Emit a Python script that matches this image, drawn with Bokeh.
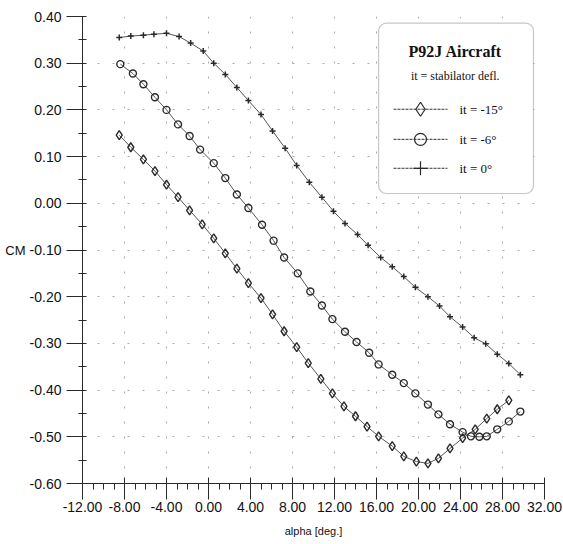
from bokeh.plotting import figure
from bokeh.models import (FixedTicker, PrintfTickFormatter, Range1d, BoxAnnotation,
                          Label, LinearAxis)
from bokeh.embed import file_html
from bokeh.resources import INLINE

# ---- data ----
alpha_it0 = [-8.5, -7.4, -6.2, -5.2, -4.0, -2.8, -1.7, -0.5, 0.5, 1.6, 2.7, 3.8, 5.0, 6.1, 7.3,
             8.4, 9.6, 10.8, 11.9, 13.0, 14.2, 15.2, 16.4, 17.5, 18.6, 19.7, 20.9, 22.0, 23.0,
             24.2, 25.3, 26.4, 27.5, 28.6, 29.7]
cm_it0 = [0.355, 0.358, 0.360, 0.362, 0.364, 0.357, 0.343, 0.326, 0.300, 0.276, 0.248, 0.220,
          0.190, 0.155, 0.118, 0.081, 0.045, 0.013, -0.017, -0.043, -0.067, -0.090, -0.116,
          -0.136, -0.157, -0.180, -0.200, -0.220, -0.243, -0.265, -0.288, -0.301, -0.323,
          -0.343, -0.367]

alpha_it6 = [-8.4, -7.2, -6.2, -5.1, -4.0, -2.9, -1.8, -0.8, 0.5, 1.6, 2.7, 3.8, 5.1, 6.2, 7.2,
             8.5, 9.7, 10.8, 11.8, 13.0, 14.1, 15.3, 16.2, 17.5, 18.6, 19.7, 20.9, 21.9, 23.0,
             24.2, 25.0, 25.8, 26.5, 27.5, 28.6, 29.7]
cm_it6 = [0.298, 0.278, 0.255, 0.227, 0.200, 0.169, 0.144, 0.115, 0.086, 0.054, 0.019, -0.010,
          -0.046, -0.080, -0.116, -0.150, -0.189, -0.219, -0.248, -0.275, -0.297, -0.320,
          -0.345, -0.367, -0.385, -0.407, -0.431, -0.452, -0.473, -0.490, -0.499, -0.500,
          -0.499, -0.484, -0.467, -0.446]

alpha_it15 = [-8.5, -7.4, -6.2, -5.1, -4.0, -2.9, -1.8, -0.6, 0.5, 1.6, 2.7, 3.8, 5.0, 6.1, 7.2,
              8.4, 9.5, 10.7, 11.8, 12.9, 14.0, 15.1, 16.2, 17.5, 18.6, 19.8, 20.9, 21.9, 23.0,
              24.2, 25.4, 26.5, 27.5, 28.6]
cm_it15 = [0.146, 0.120, 0.094, 0.069, 0.040, 0.013, -0.015, -0.045, -0.075, -0.107, -0.140,
           -0.171, -0.203, -0.238, -0.274, -0.308, -0.342, -0.376, -0.407, -0.435, -0.456,
           -0.478, -0.499, -0.520, -0.542, -0.553, -0.557, -0.546, -0.525, -0.503, -0.484,
           -0.461, -0.441, -0.422]

x_ticks = [-12, -8, -4, 0, 4, 8, 12, 16, 20, 24, 28, 32]
y_ticks = [-0.6, -0.5, -0.4, -0.3, -0.2, -0.1, 0.0, 0.1, 0.2, 0.3, 0.4]

x_title = "alpha [deg.]"
y_title = "CM"
legend_title = "P92J Aircraft"
legend_sub = "it = stabilator defl."
legend_labels = ["it = -15\u00b0", "it = -6\u00b0", "it = 0\u00b0"]

# ---- figure ----
p = figure(width=563, height=544, output_backend="svg", toolbar_location=None,
           x_range=Range1d(-12, 32), y_range=Range1d(-0.6, 0.4),
           x_axis_location=None, y_axis_location=None,
           min_border_left=82, min_border_right=19, min_border_top=16, min_border_bottom=61)
p.outline_line_color = None
p.background_fill_color = "white"

font = "Liberation Sans"
ink = "#2a2a2a"

yax = LinearAxis(ticker=FixedTicker(ticks=y_ticks,
                                    minor_ticks=[round(-0.6 + 0.05 * i, 3) for i in range(21)]),
                 formatter=PrintfTickFormatter(format="%.2f"))
yax.major_tick_out = 16
yax.major_tick_in = 0
yax.minor_tick_out = 4
yax.minor_tick_in = 4
yax.major_label_standoff = 5
yax.axis_label = y_title
yax.axis_label_standoff = 1
if "axis_label_orientation" in LinearAxis.properties():
    yax.axis_label_orientation = "horizontal"
p.add_layout(yax, "left")

xax = LinearAxis(ticker=FixedTicker(ticks=x_ticks, minor_ticks=list(range(-12, 33))),
                 formatter=PrintfTickFormatter(format="%.2f"))
xax.major_tick_out = 16
xax.major_tick_in = 6
xax.minor_tick_out = 6
xax.minor_tick_in = 0
xax.major_label_standoff = 2
xax.axis_label = x_title
xax.axis_label_standoff = 10
p.add_layout(xax, "below")

for ax in (xax, yax):
    ax.axis_line_color = ink
    ax.major_tick_line_color = ink
    ax.minor_tick_line_color = ink
    ax.major_label_text_font = font
    ax.major_label_text_font_size = "14px"
    ax.major_label_text_color = "#111111"
    ax.axis_label_text_font = font
    ax.axis_label_text_font_style = "normal"
    ax.axis_label_text_color = "#111111"
xax.axis_label_text_font_size = "11px"
yax.axis_label_text_font_size = "13px"

p.xgrid.ticker = FixedTicker(ticks=x_ticks)
p.ygrid.ticker = FixedTicker(ticks=y_ticks)
for g in (p.xgrid, p.ygrid):
    g.grid_line_color = "#888888"
    g.grid_line_alpha = 0.7
    g.grid_line_dash = "2 13"
    g.grid_line_width = 1

line_col = "#555555"
mk_col = "#2a2a2a"

p.line(alpha_it15, cm_it15, line_color=line_col, line_width=1)
p.scatter(alpha_it15, cm_it15, marker="diamond", size=9, fill_color=None, line_color=mk_col,
          line_width=1.4)
p.line(alpha_it6, cm_it6, line_color=line_col, line_width=1)
p.scatter(alpha_it6, cm_it6, marker="circle", size=7, fill_color=None, line_color=mk_col,
          line_width=1.4)
p.line(alpha_it0, cm_it0, line_color=line_col, line_width=1)
p.scatter(alpha_it0, cm_it0, marker="cross", size=6, line_color=mk_col, line_width=1.5)

# ---- legend box ----
p.add_layout(BoxAnnotation(left=16.2, right=30.95, top=0.386, bottom=0.021,
                           fill_color="white", fill_alpha=1.0, line_color="#444444",
                           line_width=1.2, border_radius=8, level="underlay"))
serif = "Liberation Serif"
p.add_layout(Label(x=23.5, y=0.326, text=legend_title, text_font=serif,
                   text_font_size="16px", text_font_style="bold", text_color="#111111",
                   text_align="center", text_baseline="middle"))
p.add_layout(Label(x=23.5, y=0.272, text=legend_sub, text_font=serif,
                   text_font_size="12px", text_color="#111111",
                   text_align="center", text_baseline="middle"))
leg_y = [0.2014, 0.137, 0.075]
leg_markers = ["diamond", "circle", "cross"]
leg_sizes = [14, 12, 14]
for yy, mk, sz, lab in zip(leg_y, leg_markers, leg_sizes, legend_labels):
    p.line([17.62, 22.76], [yy, yy], line_color="#333333", line_width=1, line_dash="3 1")
    p.scatter([20.19], [yy], marker=mk, size=sz, fill_color=None, line_color=mk_col,
              line_width=1.2)
    p.add_layout(Label(x=23.9, y=yy, text=lab, text_font=serif, text_font_size="13px",
                       text_color="#111111", text_align="left", text_baseline="middle"))

open("out.html", "w").write(file_html(p, INLINE))
